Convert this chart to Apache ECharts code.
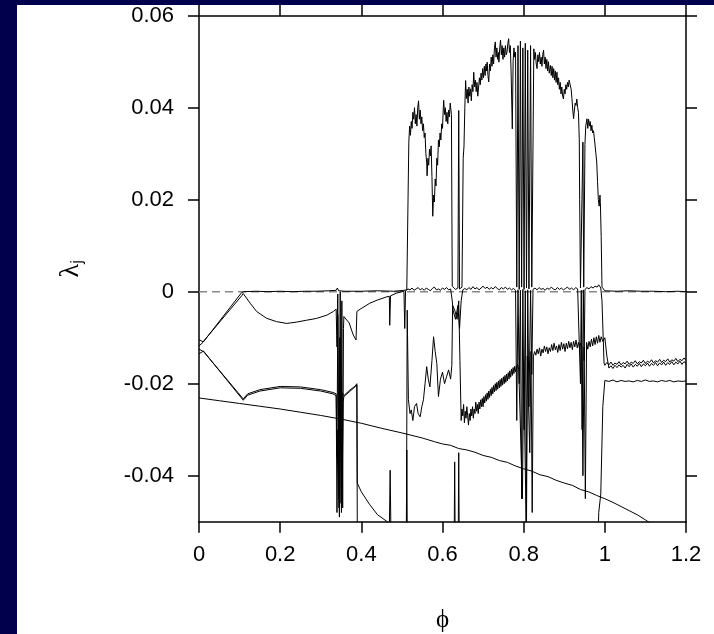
<!DOCTYPE html>
<html><head><meta charset="utf-8">
<script src="https://cdn.jsdelivr.net/npm/echarts@6/dist/echarts.min.js"></script>
<style>
html,body{margin:0;padding:0;background:#00004d;width:714px;height:634px;overflow:hidden}
#c{position:absolute;left:17px;top:5px;width:697px;height:629px;background:#fff}
</style></head><body><div id="c"></div>
<script>
// tick values
const xTicks = [0, 0.2, 0.4, 0.6, 0.8, 1.0, 1.2];
const yTicks = [-0.04, -0.02, 0, 0.02, 0.04, 0.06];
const zeroX = [0, 1.2];
const zeroY = [0, 0];

// lambda 1 (largest exponent)
const l1x = [0,0.01,0.105,0.11,0.14,0.17,0.2,0.23,0.26,0.29,0.32,0.338,0.341,0.344,0.36,0.40,0.44,0.48,0.505,0.512,
0.517,0.519,0.521,0.523,0.525,0.527,0.529,0.531,0.533,0.535,0.537,0.539,0.541,0.543,0.545,0.547,0.549,0.551,0.553,0.555,0.557,0.559,0.561,0.562,0.564,0.566,0.568,0.570,0.572,0.574,0.576,0.578,0.580,0.582,0.584,0.586,0.588,0.590,0.592,0.594,0.596,0.598,0.600,0.602,0.603,0.605,0.607,0.609,0.611,0.613,0.615,0.617,0.619,0.620,0.622,
0.624,0.632,0.638,0.640,0.642,0.648,
0.651,0.653,0.655,0.657,0.659,0.661,0.663,0.665,0.667,0.669,0.671,0.673,0.675,0.677,0.679,0.681,0.683,0.685,0.687,0.689,0.691,0.693,0.695,0.697,0.699,0.701,0.703,0.705,0.707,0.709,0.710,0.712,0.714,0.716,0.718,0.720,0.722,0.724,0.726,0.728,0.730,0.732,0.734,0.736,0.738,0.739,0.741,0.743,0.745,0.747,0.749,0.751,0.753,0.755,0.757,0.759,0.761,0.763,0.765,0.767,0.769,0.772,0.774,0.776,0.778,0.780,
0.783,0.786,0.789,0.792,0.795,0.798,0.801,0.804,0.807,0.810,0.813,0.817,0.820,
0.825,0.827,0.829,0.831,0.833,0.835,0.837,0.839,0.841,0.843,0.845,0.847,0.849,0.851,0.853,0.855,0.857,0.859,0.861,0.863,0.866,0.868,0.870,0.872,0.874,0.876,0.878,0.880,0.882,0.884,0.886,0.888,0.890,0.892,0.894,0.896,0.898,0.900,0.902,0.904,0.906,0.908,0.910,0.912,0.915,0.917,0.919,0.921,0.923,0.925,0.927,0.929,0.931,0.933,0.935,0.937,0.938,
0.940,0.944,0.946,0.948,0.951,0.953,0.956,0.958,0.960,0.962,0.964,0.966,0.968,0.970,0.972,0.974,0.976,0.978,0.980,0.982,0.984,0.986,0.988,0.989,0.991,0.993,
1.0,1.03,1.06,1.09,1.12,1.15,1.18,1.2];
const l1y = [-0.0118,-0.0110,-0.0002,0.0000,0.0001,0.0000,0.0001,0.0000,0.0001,0.0001,0.0002,0.0003,0.0008,0.0002,0.0001,0.0001,0.0002,0.0001,0.0003,0.0004,
0.0325,0.0360,0.0340,0.0370,0.0355,0.0390,0.0375,0.0400,0.0365,0.0385,0.0360,0.0400,0.0415,0.0375,0.0395,0.0365,0.0380,0.0350,0.0365,0.0335,0.0345,0.0300,0.0280,0.0252,0.0290,0.0275,0.0310,0.0295,0.0317,0.0250,0.0164,0.0210,0.0195,0.0245,0.0230,0.0290,0.0275,0.0330,0.0315,0.0345,0.0330,0.0365,0.0355,0.0400,0.0416,0.0385,0.0400,0.0370,0.0390,0.0365,0.0395,0.0380,0.0410,0.0412,0.0385,
0.0012,0.0005,0.0008,0.0394,0.0006,0.0010,
0.0290,0.0317,0.0400,0.0459,0.0420,0.0440,0.0410,0.0445,0.0425,0.0441,0.0415,0.0450,0.0435,0.0477,0.0445,0.0460,0.0435,0.0455,0.0425,0.0423,0.0465,0.0450,0.0475,0.0460,0.0485,0.0465,0.0490,0.0470,0.0495,0.0480,0.0499,0.0470,0.0456,0.0495,0.0480,0.0510,0.0490,0.0515,0.0495,0.0530,0.0543,0.0510,0.0530,0.0505,0.0520,0.0499,0.0530,0.0547,0.0515,0.0535,0.0505,0.0530,0.0510,0.0535,0.0515,0.0521,0.0540,0.0550,0.0520,0.0535,0.0480,0.0354,0.0500,0.0530,0.0510,0.0521,
0.0010,0.0535,0.0005,0.0545,0.0010,0.0530,0.0005,0.0540,0.0008,0.0525,0.0006,0.0535,0.0010,
0.0528,0.0505,0.0520,0.0495,0.0485,0.0515,0.0500,0.0520,0.0495,0.0510,0.0490,0.0515,0.0525,0.0495,0.0510,0.0485,0.0505,0.0480,0.0500,0.0475,0.0492,0.0470,0.0490,0.0465,0.0485,0.0460,0.0480,0.0455,0.0477,0.0450,0.0465,0.0440,0.0455,0.0430,0.0445,0.0425,0.0419,0.0440,0.0430,0.0450,0.0440,0.0455,0.0445,0.0460,0.0463,0.0440,0.0420,0.0395,0.0376,0.0395,0.0410,0.0405,0.0419,0.0400,0.0390,0.0330,0.0200,
0.0008,0.0006,0.0325,0.0010,0.0320,0.0360,0.0376,0.0355,0.0375,0.0360,0.0370,0.0350,0.0362,0.0345,0.0350,0.0335,0.0332,0.0300,0.0282,0.0240,0.0200,0.0186,0.0210,0.0194,0.0120,0.0010,
0.0002,0.0001,0.0002,0.0001,0.0001,0.0000,0.0001,0.0000];

// lambda 2
const l2x = [0,0.01,0.105,0.109,0.113,0.126,0.142,0.167,0.191,0.216,0.241,0.265,0.29,0.315,0.331,0.338,
0.340,0.342,0.345,0.348,0.350,0.352,0.354,0.356,0.357,0.370,0.380,0.387,0.389,0.397,0.421,0.440,0.463,0.469,0.470,0.472,0.487,0.500,0.505,0.507,0.509,
0.515,0.520,0.525,0.530,0.535,0.540,0.545,0.550,0.555,0.560,0.565,0.570,0.575,0.580,0.585,0.590,0.595,0.600,0.605,0.610,0.615,0.620,
0.624,0.626,0.632,0.638,0.642,0.646,0.650,
0.655,0.660,0.665,0.670,0.675,0.680,0.685,0.690,0.695,0.700,0.705,0.710,0.715,0.720,0.725,0.730,0.735,0.740,0.745,0.750,0.755,0.760,0.765,0.770,0.775,0.780,
0.783,0.786,0.789,0.792,0.795,0.798,0.801,0.804,0.807,0.810,0.813,0.817,0.820,
0.823,0.828,0.833,0.838,0.843,0.848,0.853,0.858,0.863,0.868,0.873,0.878,0.883,0.888,0.893,0.898,0.903,0.908,0.913,0.918,0.923,0.928,0.933,0.937,
0.940,0.942,0.944,0.947,0.949,0.951,0.956,0.961,0.966,0.971,0.976,0.981,0.985,0.988,0.990,0.993,0.998,
1.000,1.005,1.010,1.015,1.020,1.025,1.030,1.035,1.040,1.045,1.050,1.055,1.060,1.065,1.070,1.075,1.080,1.085,1.090,1.095,1.100,1.105,1.110,1.115,1.120,1.125,1.130,1.135,1.140,1.145,1.150,1.155,1.160,1.165,1.170,1.175,1.180,1.185,1.190,1.195,1.200];
const l2y = [-0.0104,-0.0109,-0.0009,-0.0004,-0.0008,-0.0025,-0.0043,-0.0058,-0.0065,-0.0069,-0.0066,-0.0062,-0.0058,-0.0051,-0.0043,-0.0038,
-0.0120,-0.0005,-0.0450,0.0000,-0.0460,-0.0020,-0.0470,-0.0080,-0.0054,-0.0068,-0.0094,-0.0105,-0.0043,-0.0038,-0.0025,-0.0018,-0.0011,-0.0010,-0.0073,-0.0009,-0.0003,0.0000,0.0001,-0.0080,0.0002,
0.0006,0.0004,0.0008,0.0003,0.0006,0.0009,0.0004,0.0007,0.0003,0.0008,0.0005,0.0002,0.0007,0.0010,0.0004,0.0006,0.0003,0.0008,0.0005,0.0009,0.0004,0.0006,
-0.0020,-0.0040,-0.0060,-0.0030,-0.0080,-0.0020,0.0004,
0.0007,0.0004,0.0009,0.0005,0.0011,0.0006,0.0009,0.0004,0.0008,0.0012,0.0007,0.0010,0.0005,0.0009,0.0006,0.0011,0.0007,0.0004,0.0009,0.0006,0.0010,0.0005,0.0008,0.0004,0.0007,0.0003,
-0.0280,0.0004,-0.0200,0.0003,-0.0450,0.0005,-0.0300,0.0002,-0.0500,0.0004,-0.0250,0.0003,-0.0180,
0.0005,0.0008,0.0004,0.0009,0.0005,0.0007,0.0003,0.0008,0.0005,0.0010,0.0006,0.0004,0.0009,0.0005,0.0008,0.0004,0.0007,0.0010,0.0005,0.0008,0.0004,0.0009,0.0006,0.0004,
-0.0200,0.0003,-0.0300,0.0004,-0.0150,0.0005,0.0009,0.0006,0.0011,0.0008,0.0012,0.0010,0.0015,0.0011,0.0008,-0.0020,-0.0155,
-0.0160,-0.0154,-0.0159,-0.0153,-0.0160,-0.0155,-0.0158,-0.0152,-0.0159,-0.0154,-0.0157,-0.0151,-0.0158,-0.0153,-0.0156,-0.0150,-0.0157,-0.0152,-0.0155,-0.0149,-0.0156,-0.0151,-0.0154,-0.0148,-0.0155,-0.0150,-0.0153,-0.0147,-0.0154,-0.0149,-0.0152,-0.0146,-0.0153,-0.0148,-0.0151,-0.0145,-0.0152,-0.0147,-0.0150,-0.0144,-0.0149];

// lambda 3
const l3x = [0,0.011,0.109,0.12,0.15,0.2,0.25,0.3,0.33,0.338,
0.340,0.342,0.345,0.347,0.351,0.353,0.357,0.370,0.385,0.389,0.390,0.40,0.42,0.44,0.464,0.469,0.471,0.473,0.50,0.511,
0.513,0.516,0.520,0.523,0.527,0.531,0.536,0.540,0.545,0.549,0.553,0.557,0.561,0.565,0.569,0.574,0.578,0.582,0.586,0.590,0.595,0.600,0.605,0.610,0.615,0.620,0.623,
0.625,0.630,0.636,0.640,0.643,
0.646,0.648,0.650,0.652,0.654,0.656,0.658,0.660,0.662,0.664,0.666,0.668,0.670,0.672,0.674,0.676,0.678,0.680,0.682,0.684,0.686,0.688,0.690,0.692,0.694,0.696,0.698,0.700,0.702,0.704,0.706,0.708,0.710,0.712,0.714,0.716,0.718,0.720,0.722,0.724,0.726,0.728,0.730,0.732,0.734,0.736,0.738,0.740,0.742,0.744,0.746,0.748,0.750,0.752,0.754,0.756,0.758,0.760,0.762,0.764,0.766,0.768,0.770,0.772,0.774,0.776,0.778,0.780,
0.785,0.788,0.797,0.800,0.806,0.809,0.815,0.818,
0.821,0.824,0.827,0.830,0.833,0.836,0.839,0.842,0.845,0.848,0.851,0.854,0.857,0.860,0.863,0.866,0.869,0.872,0.875,0.878,0.881,0.884,0.887,0.890,0.893,0.896,0.899,0.902,0.905,0.908,0.911,0.914,0.917,0.920,0.923,0.926,0.929,0.932,0.935,0.938,
0.940,0.943,0.946,0.949,0.952,0.955,0.958,0.961,0.964,0.967,0.970,0.973,0.976,0.979,0.982,0.985,0.988,0.991,0.995,
1.000,1.005,1.010,1.015,1.020,1.025,1.030,1.035,1.040,1.045,1.050,1.055,1.060,1.065,1.070,1.075,1.080,1.085,1.090,1.095,1.100,1.105,1.110,1.115,1.120,1.125,1.130,1.135,1.140,1.145,1.150,1.155,1.160,1.165,1.170,1.175,1.180,1.185,1.190,1.195,1.200];
const l3y = [-0.0125,-0.0130,-0.0233,-0.0222,-0.0213,-0.0206,-0.0207,-0.0213,-0.0219,-0.0222,
-0.0360,-0.0050,-0.0470,-0.0100,-0.0480,-0.0220,-0.0226,-0.0215,-0.0205,-0.0200,-0.0416,-0.0435,-0.0462,-0.0485,-0.0500,-0.0520,-0.0388,-0.0530,-0.0560,-0.0570,
-0.0040,-0.0235,-0.0265,-0.0257,-0.0280,-0.0250,-0.0243,-0.0265,-0.0272,-0.0250,-0.0235,-0.0200,-0.0163,-0.0190,-0.0207,-0.0150,-0.0098,-0.0130,-0.0156,-0.0228,-0.0190,-0.0175,-0.0200,-0.0185,-0.0170,-0.0190,-0.0160,
-0.0030,-0.0040,-0.0060,-0.0020,-0.0150,
-0.0280,-0.0255,-0.0270,-0.0245,-0.0285,-0.0260,-0.0275,-0.0250,-0.0270,-0.0290,-0.0265,-0.0280,-0.0255,-0.0270,-0.0250,-0.0275,-0.0255,-0.0265,-0.0240,-0.0260,-0.0245,-0.0265,-0.0240,-0.0255,-0.0235,-0.0250,-0.0232,-0.0250,-0.0228,-0.0242,-0.0224,-0.0238,-0.0220,-0.0234,-0.0216,-0.0230,-0.0212,-0.0226,-0.0208,-0.0222,-0.0204,-0.0218,-0.0200,-0.0215,-0.0197,-0.0212,-0.0194,-0.0209,-0.0191,-0.0206,-0.0188,-0.0203,-0.0185,-0.0200,-0.0182,-0.0197,-0.0179,-0.0194,-0.0176,-0.0190,-0.0172,-0.0186,-0.0168,-0.0182,-0.0165,-0.0178,-0.0162,-0.0174,-0.0158,-0.0170,
-0.0450,-0.0150,-0.0500,-0.0140,-0.0350,-0.0130,-0.0480,-0.0140,
-0.0130,-0.0138,-0.0125,-0.0135,-0.0122,-0.0140,-0.0125,-0.0133,-0.0118,-0.0130,-0.0120,-0.0135,-0.0122,-0.0130,-0.0115,-0.0128,-0.0112,-0.0126,-0.0118,-0.0132,-0.0115,-0.0128,-0.0110,-0.0125,-0.0113,-0.0130,-0.0112,-0.0124,-0.0108,-0.0122,-0.0110,-0.0126,-0.0108,-0.0120,-0.0105,-0.0122,-0.0110,-0.0125,-0.0112,-0.0118,
-0.0400,-0.0120,-0.0450,-0.0110,-0.0125,-0.0108,-0.0120,-0.0103,-0.0118,-0.0100,-0.0115,-0.0098,-0.0112,-0.0095,-0.0110,-0.0098,-0.0108,-0.0100,-0.0140,
-0.0166,-0.0161,-0.0167,-0.0160,-0.0165,-0.0159,-0.0164,-0.0160,-0.0166,-0.0158,-0.0163,-0.0157,-0.0164,-0.0158,-0.0162,-0.0156,-0.0163,-0.0157,-0.0161,-0.0155,-0.0162,-0.0156,-0.0160,-0.0154,-0.0161,-0.0155,-0.0159,-0.0153,-0.0160,-0.0154,-0.0158,-0.0152,-0.0159,-0.0153,-0.0157,-0.0151,-0.0158,-0.0152,-0.0156,-0.0150,-0.0157];

// lambda 4
const l4x = [0,0.011,0.109,0.12,0.15,0.2,0.25,0.3,0.33,0.338,
0.340,0.342,0.346,0.349,0.352,0.355,0.357,0.37,0.389,0.3905,0.50,0.510,0.512,0.514,0.52,
0.62,0.628,0.630,0.632,0.638,0.640,0.642,0.70,0.80,0.90,0.98,0.985,0.99,0.995,
1.00,1.01,1.02,1.03,1.04,1.05,1.06,1.07,1.08,1.09,1.10,1.11,1.12,1.13,1.14,1.15,1.16,1.17,1.18,1.19,1.20];
const l4y = [-0.0135,-0.0129,-0.0236,-0.0225,-0.0216,-0.0209,-0.0210,-0.0216,-0.0222,-0.0226,
-0.0480,-0.0300,-0.0490,-0.0230,-0.0470,-0.0240,-0.0228,-0.0218,-0.0203,-0.0650,-0.0650,-0.0650,-0.0344,-0.0650,-0.0650,
-0.0650,-0.0650,-0.0370,-0.0650,-0.0650,-0.0350,-0.0650,-0.0650,-0.0650,-0.0650,-0.0650,-0.0480,-0.0440,-0.0250,
-0.0193,-0.0195,-0.0192,-0.0196,-0.0193,-0.0195,-0.0194,-0.0196,-0.0193,-0.0195,-0.0192,-0.0195,-0.0194,-0.0196,-0.0193,-0.0195,-0.0193,-0.0196,-0.0194,-0.0195,-0.0194];

// lambda 5 (smallest visible)
const l5x = [0,0.05,0.1,0.15,0.2,0.25,0.3,0.35,0.4,0.45,0.5,0.55,0.58,0.6,0.62,0.64,0.66,0.68,0.7,0.72,0.74,0.76,0.78,0.8,0.82,0.84,0.86,0.88,0.9,0.92,0.94,0.96,0.98,1.0,1.02,1.04,1.06,1.08,1.1,1.12];
const l5y = [-0.0231,-0.0237,-0.0243,-0.0249,-0.0255,-0.0262,-0.0269,-0.0277,-0.0286,-0.0297,-0.0307,-0.0318,-0.0326,-0.0331,-0.0334,-0.0341,-0.0344,-0.0349,-0.0356,-0.0360,-0.0367,-0.0371,-0.0379,-0.0385,-0.0390,-0.0398,-0.0402,-0.0410,-0.0416,-0.0421,-0.0430,-0.0435,-0.0443,-0.0450,-0.0458,-0.0467,-0.0476,-0.0485,-0.0496,-0.0508];

function zip(xs, ys){ return xs.map((x,i)=>[x, ys[i]]); }

const chart = echarts.init(document.getElementById('c'), null, {renderer:'canvas'});
const axisCommon = {
  type:'value', min:0, max:1.2, interval:0.2,
  axisLine:{show:true, onZero:false, lineStyle:{color:'#000', width:1.5}},
  splitLine:{show:false}
};
const lineStyle = {color:'#000', width:1};
function ser(xs, ys){
  return {type:'line', data:zip(xs,ys), showSymbol:false, symbol:'none', lineStyle:lineStyle, silent:true, clip:true, z:3};
}
const fmtY = v => Math.abs(v) < 1e-9 ? '0' : v.toFixed(2);
chart.setOption({
  animation:false,
  backgroundColor:'#fff',
  grid:{left:182, right:28, top:10.7, bottom:112.3, containLabel:false, outerBoundsMode:'none'},
  xAxis:[
    Object.assign({}, axisCommon, {position:'bottom',
      axisTick:{show:true, inside:false, length:11, lineStyle:{color:'#000', width:1.5}},
      axisLabel:{show:true, margin:22, color:'#000', fontSize:22, fontFamily:'Liberation Sans'},
      name:'\u03d5', nameLocation:'middle', nameGap:86,
      nameTextStyle:{color:'#000', fontSize:25, fontFamily:'Liberation Serif'}}),
    Object.assign({}, axisCommon, {position:'top',
      axisTick:{show:true, inside:false, length:11, lineStyle:{color:'#000', width:1.5}},
      axisLabel:{show:false}})
  ],
  yAxis:[
    {type:'value', min:-0.05, max:0.06, position:'left',
     axisLine:{show:true, onZero:false, lineStyle:{color:'#000', width:1.5}},
     splitLine:{show:false},
     axisTick:{show:true, inside:false, length:11, customValues:yTicks, lineStyle:{color:'#000', width:1.5}},
     axisLabel:{show:true, margin:25, color:'#000', fontSize:22, fontFamily:'Liberation Sans', customValues:yTicks, formatter:fmtY},
     name:'{l|\u03bb}{s|j}', nameLocation:'middle', nameGap:113, nameRotate:90,
     nameTextStyle:{color:'#000', rich:{
       l:{fontSize:28, fontFamily:'Liberation Serif', color:'#000'},
       s:{fontSize:17, fontFamily:'Liberation Sans', color:'#000', padding:[14,0,0,0]}
     }}},
    {type:'value', min:-0.05, max:0.06, position:'right',
     axisLine:{show:true, onZero:false, lineStyle:{color:'#000', width:1.5}},
     splitLine:{show:false},
     axisTick:{show:true, inside:false, length:11, customValues:yTicks, lineStyle:{color:'#000', width:1.5}},
     axisLabel:{show:false}}
  ],
  series:[
    {type:'line', data:zip(zeroX, zeroY), showSymbol:false, symbol:'none', silent:true, z:1,
     lineStyle:{color:'#888', width:1.5, type:[8,5]}},
    ser(l5x, l5y),
    ser(l4x, l4y),
    ser(l3x, l3y),
    ser(l2x, l2y),
    ser(l1x, l1y)
  ]
});
</script></body></html>
